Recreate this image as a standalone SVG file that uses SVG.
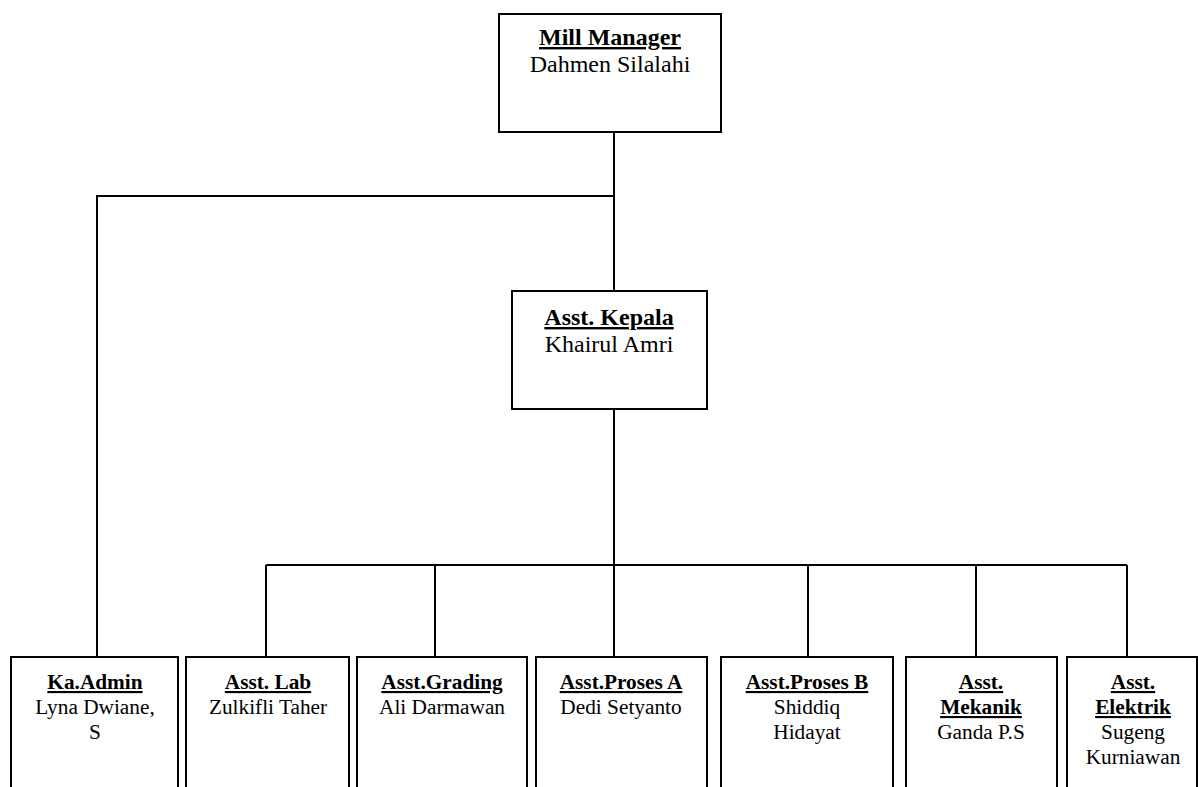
<svg xmlns="http://www.w3.org/2000/svg" width="1198" height="787" viewBox="0 0 1198 787">
<style>
.box{fill:#fff;stroke:#000;stroke-width:2}
.ln{fill:none;stroke:#000;stroke-width:2}
.t{font-family:"Liberation Serif","Times New Roman",serif;text-anchor:middle;fill:#000}
.big{font-size:24px}
.sm{font-size:21.3px}
.b{font-weight:bold;text-decoration:underline}
</style>
<rect width="1198" height="787" fill="#fff"/>
<g id="connectors">
<path class="ln" d="M614,132 V291 M614,196 H97 V657"/>
<path class="ln" d="M614,409 V565 M266,565 H1127 M266,565 V657 M435,565 V657 M614,565 V657 M808,565 V657 M976,565 V657 M1127,565 V657"/>
</g>
<g id="mill-manager">
<rect class="box" x="499" y="14" width="222" height="118"/>
<text class="t big b" x="610" y="45">Mill Manager</text>
<text class="t big" x="610" y="72">Dahmen Silalahi</text>
</g>
<g id="asst-kepala">
<rect class="box" x="512" y="291" width="195" height="118"/>
<text class="t big b" x="609" y="325">Asst. Kepala</text>
<text class="t big" x="609" y="352">Khairul Amri</text>
</g>
<g id="ka-admin">
<rect class="box" x="11" y="657" width="167" height="150"/>
<text class="t sm b" x="95" y="689">Ka.Admin</text>
<text class="t sm" x="95" y="714">Lyna Dwiane,</text>
<text class="t sm" x="95" y="739">S</text>
</g>
<g id="asst-lab">
<rect class="box" x="186" y="657" width="163" height="150"/>
<text class="t sm b" x="268" y="689">Asst. Lab</text>
<text class="t sm" x="268" y="714">Zulkifli Taher</text>
</g>
<g id="asst-grading">
<rect class="box" x="357" y="657" width="170" height="150"/>
<text class="t sm b" x="442" y="689">Asst.Grading</text>
<text class="t sm" x="442" y="714">Ali Darmawan</text>
</g>
<g id="asst-proses-a">
<rect class="box" x="536" y="657" width="171" height="150"/>
<text class="t sm b" x="621" y="689">Asst.Proses A</text>
<text class="t sm" x="621" y="714">Dedi Setyanto</text>
</g>
<g id="asst-proses-b">
<rect class="box" x="721" y="657" width="172" height="150"/>
<text class="t sm b" x="807" y="689">Asst.Proses B</text>
<text class="t sm" x="807" y="714">Shiddiq</text>
<text class="t sm" x="807" y="739">Hidayat</text>
</g>
<g id="asst-mekanik">
<rect class="box" x="906" y="657" width="151" height="150"/>
<text class="t sm b" x="981" y="689">Asst.</text>
<text class="t sm b" x="981" y="714">Mekanik</text>
<text class="t sm" x="981" y="739">Ganda P.S</text>
</g>
<g id="asst-elektrik">
<rect class="box" x="1067" y="657" width="130" height="150"/>
<text class="t sm b" x="1133" y="689">Asst.</text>
<text class="t sm b" x="1133" y="714">Elektrik</text>
<text class="t sm" x="1133" y="739">Sugeng</text>
<text class="t sm" x="1133" y="764">Kurniawan</text>
</g>
</svg>
